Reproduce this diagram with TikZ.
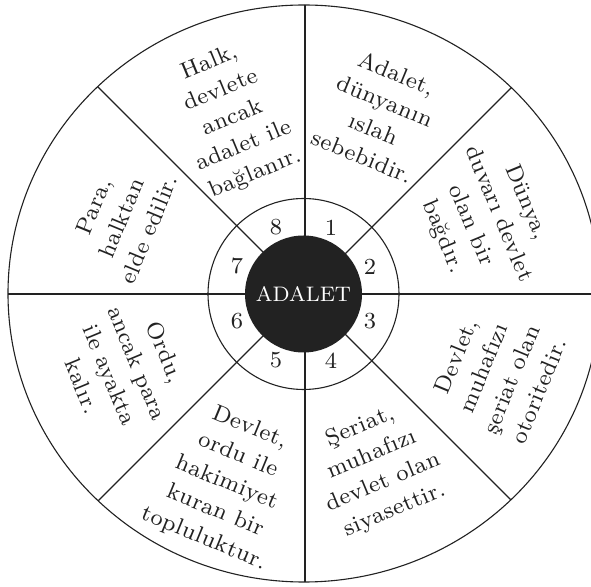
\documentclass[tikz,border=0pt]{standalone}
\usepackage{fontspec}
\newfontfamily\wheelfont{lmroman8-regular.otf}[LetterSpace=2]
\newfontfamily\corefont{lmroman8-regular.otf}
\definecolor{ink}{HTML}{222222}
\tikzset{
  wheel/.style={draw=ink, line width=1.1pt},
  lbl/.style={text=ink, font=\wheelfont\fontsize{23}{30}\selectfont, align=center, inner sep=0pt},
  num/.style={text=ink, font=\wheelfont\fontsize{23}{26}\selectfont, inner sep=0pt},
}
\begin{document}
\begin{tikzpicture}[x=1pt,y=1pt]
\useasboundingbox (0,0) rectangle (591,586);
\clip (0,0) rectangle (591,586);
\fill[white] (0,0) rectangle (591,586);
\coordinate (S) at (305,292);
\coordinate (O) at (303.5,292);
\coordinate (E) at (304,292.5);
\begin{scope}
  \clip (E) ellipse [x radius=296, y radius=288.5];
  \foreach \a in {0,45,...,315} \draw[wheel] (S) -- ++(\a:420);
\end{scope}
\draw[wheel] (E) ellipse [x radius=296, y radius=288.5];
\draw[wheel] (O) circle [radius=95.5];
\node[circle, fill=ink, minimum size=117pt, inner sep=0pt] (core) at (O) {};
\node[text=white, font=\corefont\fontsize{21}{23}\selectfont, inner sep=0pt] (title) at (O) {ADALET};
% numbers
\node[num] (n1) at ([shift={(67.5:72)}]O) {1};
\node[num] (n2) at ([shift={(22.5:72)}]O) {2};
\node[num] (n3) at ([shift={(-22.5:72)}]O) {3};
\node[num] (n4) at ([shift={(-67.5:72)}]O) {4};
\node[num] (n5) at ([shift={(-112.5:72)}]O) {5};
\node[num] (n6) at ([shift={(-157.5:72)}]O) {6};
\node[num] (n7) at ([shift={(157.5:72)}]O) {7};
\node[num] (n8) at ([shift={(112.5:72)}]O) {8};
% sayings
\node[lbl, rotate=-22.5] (t1) at ([shift={(67.5:194)}]S) {Adalet,\\dünyanın\\ıslah\\sebebidir.};
\node[lbl, rotate=-67.5] (t2) at ([shift={(22.5:194)}]S) {Dünya,\\duvarı devlet\\olan bir\\bağdır.};
\node[lbl, rotate=67.5] (t3) at ([shift={(-22.5:208)}]S) {Devlet,\\muhafızı\\şeriat olan\\otoritedir.};
\node[lbl, rotate=22.5] (t4) at ([shift={(-67.5:189)}]S) {Şeriat,\\muhafızı\\devlet olan\\siyasettir.};
\node[lbl, rotate=-22.5] (t5) at ([shift={(-112.5:205)}]S) {Devlet,\\ordu ile\\hakimiyet\\kuran bir\\topluluktur.};
\node[lbl, rotate=-67.5] (t6) at ([shift={(-157.5:196)}]S) {Ordu,\\ancak para\\ile ayakta\\kalır.};
\node[lbl, rotate=67.5] (t7) at ([shift={(157.5:199)}]S) {Para,\\halktan\\elde edilir.};
\node[lbl, rotate=22.5] (t8) at ([shift={(112.5:190)}]S) {Halk,\\devlete\\ancak\\adalet ile\\bağlanır.};
\end{tikzpicture}
\end{document}
